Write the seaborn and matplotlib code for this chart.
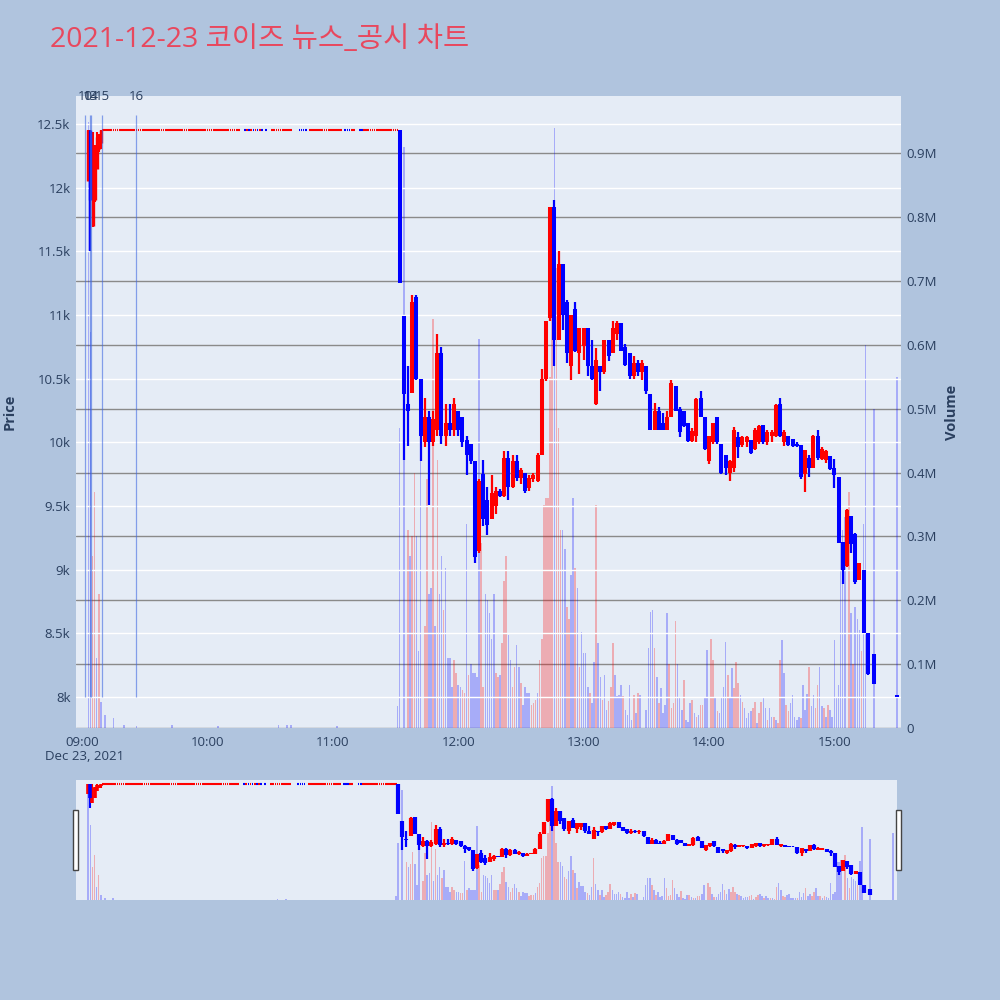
import numpy as np
import pandas as pd
import matplotlib
matplotlib.use("Agg")
import matplotlib.pyplot as plt
from matplotlib.patches import Rectangle
import seaborn as sns

# ---------------- data (minutes after 09:00) ----------------
early_t = [3, 4, 5, 6, 7, 8, 9]
early_o = [12050, 12450, 11700, 11900, 12150, 12300, 12350]
early_h = [12450, 12450, 12440, 12335, 12440, 12420, 12450]
early_l = [12050, 11500, 11690, 11890, 12150, 12280, 12300]
early_c = [12450, 11900, 12300, 12330, 12400, 12420, 12450]

flat_price = 12450
flat_gap = [76, 77, 87, 89, 90, 101, 102, 103, 108, 125, 131, 132]
flat_blue = [78, 80, 82, 84, 86, 88, 104, 105, 106, 107, 126, 127, 128, 133, 134]

pm_t = [152, 154, 156, 158, 160, 162, 164, 166, 168, 170, 172, 174, 176, 178, 180,
        182, 184, 186, 188, 190, 192, 194, 196, 198, 200, 202, 204, 206, 208, 210,
        212, 214, 216, 218, 220, 222, 224, 226, 228, 230, 232, 234, 236, 238, 240,
        242, 244, 246, 248, 250, 252, 254, 256, 258, 260, 262, 264, 266, 268, 270,
        272, 274, 276, 278, 280, 282, 284, 286, 288, 290, 292, 294, 296, 298, 300,
        302, 304, 306, 308, 310, 312, 314, 316, 318, 320, 322, 324, 326, 328, 330,
        332, 334, 336, 338, 340, 342, 344, 346, 348, 350, 352, 354, 356, 358, 360,
        362, 364, 366, 368, 370, 372, 374, 376, 379, 390]
pm_o = [12450, 10990, 10300, 10390, 11140, 10500, 10000, 10200, 10000, 10100, 10700, 10050, 10150, 10100, 10250,
        10200, 10020, 9990, 9850, 9150, 9750, 9550, 9400, 9500, 9620, 9580, 9880, 9650, 9850, 9720,
        9760, 9640, 9710, 9700, 9900, 10500, 10980, 11850, 10800, 11400, 11100, 10600, 11050, 10700, 10760,
        10900, 10600, 10300, 10600, 10550, 10800, 10700, 10850, 10940, 10750, 10700, 10520, 10620, 10550, 10600,
        10380, 10100, 10250, 10150, 10100, 10200, 10440, 10260, 10250, 10150, 10010, 10050, 10350, 10200, 9850,
        10000, 10200, 9990, 9900, 9760, 9800, 10040, 9980, 10000, 10020, 9950, 10000, 10140, 10000, 10050,
        10050, 10300, 10000, 10050, 10030, 9990, 9980, 9750, 9880, 9800, 10050, 9870, 9860, 9890, 9800,
        9730, 9220, 9030, 9420, 9280, 8920, 9000, 8500, 8340, 8020]
pm_h = [12450, 10990, 10600, 11160, 11160, 10500, 10350, 10250, 10250, 10850, 10750, 10300, 10300, 10350, 10250,
        10200, 10050, 9990, 9850, 9710, 9860, 9650, 9740, 9650, 9630, 9930, 9930, 9900, 9900, 9800,
        9760, 9740, 9760, 9920, 10580, 10950, 11850, 11900, 11500, 11400, 11120, 11000, 11100, 10900, 10900,
        10900, 10800, 10740, 10600, 10800, 10800, 10950, 10950, 10940, 10770, 10700, 10680, 10650, 10650, 10600,
        10380, 10310, 10280, 10230, 10250, 10490, 10440, 10280, 10250, 10150, 10110, 10350, 10400, 10200, 10050,
        10150, 10200, 9990, 9900, 9860, 10120, 10080, 10050, 10050, 10020, 10110, 10140, 10140, 10100, 10100,
        10300, 10350, 10100, 10050, 10030, 10000, 9980, 9940, 9900, 10060, 10100, 9960, 9940, 9890, 9870,
        9730, 9220, 9480, 9420, 9290, 9050, 9000, 8500, 8340, 8020]
pm_l = [11250, 9860, 9970, 10390, 10490, 9850, 9960, 9510, 9970, 10050, 9990, 9970, 10050, 10050, 10050,
        9960, 9740, 9830, 9050, 9130, 9340, 9270, 9400, 9440, 9570, 9570, 9550, 9640, 9700, 9670,
        9600, 9620, 9690, 9690, 9900, 10480, 10950, 10600, 10800, 10880, 10620, 10490, 10710, 10540, 10650,
        10520, 10490, 10290, 10400, 10540, 10640, 10700, 10800, 10720, 10600, 10500, 10500, 10520, 10490, 10380,
        10100, 10100, 10100, 10100, 10100, 10200, 10250, 10040, 10120, 10000, 10000, 10000, 10200, 9940, 9830,
        9990, 9990, 9750, 9740, 9700, 9770, 9880, 9960, 9960, 9910, 9940, 9990, 9990, 9980, 10000,
        10040, 10040, 9970, 9970, 9960, 9960, 9710, 9610, 9730, 9800, 9860, 9860, 9840, 9780, 9640,
        9210, 8890, 9020, 9130, 8890, 8920, 8500, 8170, 8100, 8000]
pm_c = [11250, 10380, 10250, 11100, 10500, 10050, 10200, 10000, 10180, 10700, 10050, 10150, 10100, 10300, 10100,
        10000, 9900, 9850, 9100, 9700, 9400, 9350, 9600, 9620, 9580, 9880, 9650, 9850, 9720, 9780,
        9620, 9720, 9740, 9900, 10500, 10950, 11850, 10800, 11400, 11000, 10700, 11000, 10720, 10900, 10900,
        10600, 10500, 10650, 10550, 10800, 10680, 10900, 10940, 10720, 10610, 10520, 10620, 10550, 10620, 10400,
        10100, 10250, 10100, 10100, 10200, 10470, 10250, 10080, 10130, 10010, 10090, 10340, 10200, 9950, 10050,
        10150, 10000, 9760, 9800, 9850, 10100, 9960, 10040, 10040, 9920, 10100, 10130, 10000, 10080, 10080,
        10290, 10050, 10080, 9980, 9970, 9970, 9730, 9940, 9800, 10050, 9880, 9950, 9930, 9790, 9740,
        9210, 9000, 9470, 9200, 8900, 9050, 8500, 8180, 8100, 8000]

# volume in millions, direction r = up bar, b = down bar (row by row, same lengths)
vol_t = [3, 4, 5, 6, 7, 8, 9, 11, 15, 20, 26, 43, 65, 94, 98, 100, 122,
         151, 152, 154, 156, 157, 158, 159, 160, 161, 162, 164, 165, 166, 167, 168, 169, 170, 171,
         172, 173, 174, 175, 176, 177, 178, 179, 180, 181, 182, 183, 184, 185, 186, 187, 188, 189,
         190, 191, 192, 193, 194, 195, 196, 197, 198, 199, 200, 201, 202, 203, 204, 205, 206, 207,
         208, 209, 210, 211, 212, 213, 214, 215, 216, 217, 218, 219, 220, 221, 222, 223, 224, 225,
         226, 227, 228, 229, 230, 231, 232, 233, 234, 235, 236, 237, 238, 239, 240, 241, 242, 243,
         244, 245, 246, 247, 248, 249, 250, 251, 252, 253, 254, 255, 256, 257, 258, 259, 260, 261,
         262, 263, 264, 265, 266, 267, 270, 271, 272, 273, 274, 275, 276, 277, 278, 279, 280, 281,
         282, 283, 284, 285, 286, 287, 288, 289, 290, 291, 292, 293, 294, 295, 296, 297, 298, 299,
         301, 302, 303, 304, 305, 306, 307, 308, 309, 310, 311, 312, 313, 314, 315, 316, 317, 318,
         319, 320, 321, 322, 323, 324, 325, 326, 327, 328, 329, 330, 331, 332, 333, 334, 335, 336,
         337, 338, 339, 340, 341, 342, 343, 344, 345, 346, 347, 348, 349, 350, 351, 352, 353, 354,
         355, 356, 357, 358, 359, 360, 361, 362, 363, 364, 365, 367, 368, 369, 370, 371, 372, 373,
         374, 375, 379, 390]
vol_v = [0.95, 0.62, 0.27, 0.37, 0.11, 0.21, 0.04, 0.02, 0.015, 0.004, 0.003, 0.004, 0.003, 0.005, 0.005, 0.004, 0.003,
         0.034, 0.47, 0.91, 0.31, 0.27, 0.30, 0.40, 0.30, 0.12, 0.42, 0.16, 0.39, 0.21, 0.22, 0.64, 0.16, 0.42, 0.21,
         0.27, 0.185, 0.25, 0.11, 0.11, 0.065, 0.107, 0.086, 0.068, 0.065, 0.06, 0.055, 0.32, 0.083, 0.10, 0.086, 0.086, 0.08,
         0.61, 0.29, 0.065, 0.21, 0.20, 0.18, 0.14, 0.21, 0.086, 0.08, 0.083, 0.133, 0.23, 0.27, 0.146, 0.107, 0.065, 0.096,
         0.13, 0.096, 0.07, 0.036, 0.065, 0.055, 0.055, 0.036, 0.039, 0.044, 0.055, 0.107, 0.14, 0.35, 0.36, 0.36, 0.55, 0.68,
         0.94, 0.72, 0.47, 0.31, 0.31, 0.28, 0.19, 0.17, 0.24, 0.36, 0.25, 0.22, 0.096, 0.15, 0.117, 0.117, 0.065, 0.055,
         0.039, 0.104, 0.35, 0.133, 0.08, 0.044, 0.083, 0.028, 0.042, 0.065, 0.133, 0.083, 0.05, 0.052, 0.068, 0.05, 0.028, 0.02,
         0.068, 0.013, 0.052, 0.023, 0.055, 0.052, 0.028, 0.125, 0.182, 0.185, 0.125, 0.08, 0.039, 0.062, 0.023, 0.036, 0.18, 0.10,
         0.031, 0.039, 0.167, 0.10, 0.049, 0.028, 0.075, 0.013, 0.01, 0.039, 0.044, 0.023, 0.018, 0.02, 0.036, 0.036, 0.047, 0.122,
         0.14, 0.107, 0.049, 0.026, 0.023, 0.047, 0.065, 0.135, 0.083, 0.049, 0.094, 0.062, 0.104, 0.07, 0.052, 0.041, 0.031, 0.015,
         0.023, 0.026, 0.031, 0.041, 0.008, 0.023, 0.041, 0.047, 0.031, 0.013, 0.031, 0.018, 0.018, 0.013, 0.008, 0.107, 0.138, 0.086,
         0.036, 0.026, 0.039, 0.052, 0.018, 0.013, 0.018, 0.015, 0.068, 0.028, 0.054, 0.095, 0.034, 0.052, 0.031, 0.068, 0.095, 0.034,
         0.031, 0.018, 0.036, 0.028, 0.018, 0.138, 0.047, 0.068, 0.316, 0.31, 0.33, 0.37, 0.18, 0.10, 0.19, 0.17, 0.154, 0.12,
         0.32, 0.60, 0.50, 0.55]
vol_d = list("bbrrbrbbbbbbbbbbb"
             "bbbrbrrbbbrrbbrbrb"
             "brbbbbrrbbrrbrbbbb"
             "brrbbbbbrrbrrrbbrr"
             "bbrbbbbrrrbrrrrrrr"
             "brrrbbrrbbrbrbbbbr"
             "bbrbbrbbrrrbbbbrbb"
             "bbrbrbbbbbrbrbbbbr"
             "rrrbbbrbbbrbrbrrbb"
             "rrbrbbbbrbbrrrbrbb"
             "bbrrbrrbbrbbrbrrbb"
             "rrbbbbbrbbbrbbrrbb"
             "rbrbbbbbbbbrbrbbbr"
             "bbbb")

news_t = [1.4, 3.8, 4.3, 9.6, 25.8]
news_label = ["10", "13", "14", "15", "16"]

hour_ticks = [0, 60, 120, 180, 240, 300, 360]
hour_labels = ["09:00", "10:00", "11:00", "12:00", "13:00", "14:00", "15:00"]
price_ticks = [8000, 8500, 9000, 9500, 10000, 10500, 11000, 11500, 12000, 12500]
price_labels = ["8k", "8.5k", "9k", "9.5k", "10k", "10.5k", "11k", "11.5k", "12k", "12.5k"]
vol_ticks = [0, 0.1, 0.2, 0.3, 0.4, 0.5, 0.6, 0.7, 0.8, 0.9]
vol_labels = ["0", "0.1M", "0.2M", "0.3M", "0.4M", "0.5M", "0.6M", "0.7M", "0.8M", "0.9M"]

# ---------------- style ----------------
INC, DEC = "#ff0000", "#0000ff"
BG, PLOT_BG, TXT = "#b0c4de", "#e5ecf6", "#2a3f5f"
sns.set_style("white")
plt.rcParams["font.family"] = ["Open Sans", "Noto Sans CJK KR", "DejaVu Sans"]

fig = plt.figure(figsize=(10, 10), dpi=100, facecolor=BG)
XLIM = (-2.9, 391.9)


def draw_candles(ax, t, o, h, l, c, body_lw, wick_lw):
    t, o, h, l, c = map(np.asarray, (t, o, h, l, c))
    up = c >= o
    for mask, col in ((up, INC), (~up, DEC)):
        ax.vlines(t[mask], l[mask], h[mask], color=col, lw=wick_lw, zorder=3)
        ax.vlines(t[mask], np.minimum(o, c)[mask], np.maximum(o, c)[mask],
                  color=col, lw=body_lw, zorder=4)


flat_t = [m for m in range(10, 152) if m not in flat_gap]
flat_df = pd.DataFrame({"t": flat_t, "p": [flat_price] * len(flat_t),
                        "d": ["b" if m in flat_blue else "r" for m in flat_t]})
vol_df = pd.DataFrame({"t": vol_t, "v": vol_v, "d": vol_d})
vol_colors = [INC if d == "r" else DEC for d in vol_df["d"]]


def draw_all(ax_vol, ax_p, main):
    ax_vol.set_facecolor(PLOT_BG)
    ax_vol.bar(vol_df["t"], vol_df["v"], width=0.75, color=vol_colors, alpha=0.27,
               linewidth=0, zorder=2)
    draw_candles(ax_p, early_t, early_o, early_h, early_l, early_c,
                 2.4 if main else 2.6, 1.5)
    draw_candles(ax_p, pm_t, pm_o, pm_h, pm_l, pm_c, 2.9 if main else 3.0, 1.6)
    sns.scatterplot(data=flat_df, x="t", y="p", hue="d", palette={"r": INC, "b": DEC},
                    marker="_", s=1.6, linewidth=1.5, legend=False,
                    ax=ax_p, zorder=3)
    for a in (ax_vol, ax_p):
        a.set_xlim(*XLIM)
        for s in a.spines.values():
            s.set_visible(False)
        a.set_xlabel("")
        a.set_ylabel("")


# main chart
ax_vol = fig.add_axes([0.076, 0.272, 0.825, 0.632])
ax_p = ax_vol.twinx()
ax_p.patch.set_visible(False)
draw_all(ax_vol, ax_p, True)
ax_vol.set_ylim(0, 0.99)
ax_p.set_ylim(7757, 12720)

ax_vol.set_yticks(vol_ticks)
ax_vol.set_yticklabels(vol_labels)
ax_vol.yaxis.tick_right()
ax_vol.grid(axis="y", color="#8a8a8a", lw=1.0, zorder=0)
ax_vol.grid(axis="x", visible=False)
ax_vol.set_axisbelow(True)

ax_p.yaxis.tick_left()
ax_p.set_yticks(price_ticks)
ax_p.set_yticklabels(price_labels)
ax_p.grid(axis="y", color="white", lw=1.0, zorder=0)
ax_p.grid(axis="x", visible=False)
ax_p.set_axisbelow(True)

ax_vol.set_xticks(hour_ticks)
ax_vol.set_xticklabels(hour_labels)
for a in (ax_vol, ax_p):
    a.tick_params(length=0, labelsize=9.5, colors=TXT, pad=4)
ax_p.tick_params(axis="x", bottom=False, labelbottom=False)
ax_vol.tick_params(axis="x", pad=6)

# news markers (labels overlap in the original as well)
ax_p.vlines(news_t, 8000, 12570, color="#4169e1", lw=0.9, alpha=0.6, zorder=5)
for t, lab in zip(news_t, news_label):
    ax_p.text(t, 1.0, lab, transform=ax_p.get_xaxis_transform(), ha="center",
              va="center", fontsize=9.5, color=TXT, zorder=6, clip_on=False)

fig.text(0.085, 0.243, "Dec 23, 2021", ha="center", va="center", fontsize=9.5, color=TXT)
fig.text(0.010, 0.588, "Price", rotation=90, ha="center", va="center",
         fontsize=10.5, color=TXT, fontweight="bold")
fig.text(0.952, 0.588, "Volume", rotation=90, ha="center", va="center",
         fontsize=10.5, color=TXT, fontweight="bold")
fig.text(0.05, 0.96, "2021-12-23 코이즈 뉴스_공시 차트", ha="left", va="center",
         fontsize=20.5, color="#e8485e",
         family=["Open Sans", "Noto Sans CJK KR", "DejaVu Sans"])

# range slider
s_vol = fig.add_axes([0.076, 0.100, 0.821, 0.120])
s_p = s_vol.twinx()
s_p.patch.set_visible(False)
draw_all(s_vol, s_p, False)
s_vol.set_ylim(0, 0.99)
s_p.set_ylim(7900, 12600)
for a in (s_vol, s_p):
    a.set_xticks([])
    a.set_yticks([])
    a.grid(False)
for xpx in (73, 896):
    fig.patches.append(Rectangle((xpx / 1000, 0.130), 0.005, 0.060,
                                 transform=fig.transFigure, facecolor="white",
                                 edgecolor="#444444", lw=1.0, zorder=10))

fig.savefig("out.png", dpi=100, facecolor=BG)
